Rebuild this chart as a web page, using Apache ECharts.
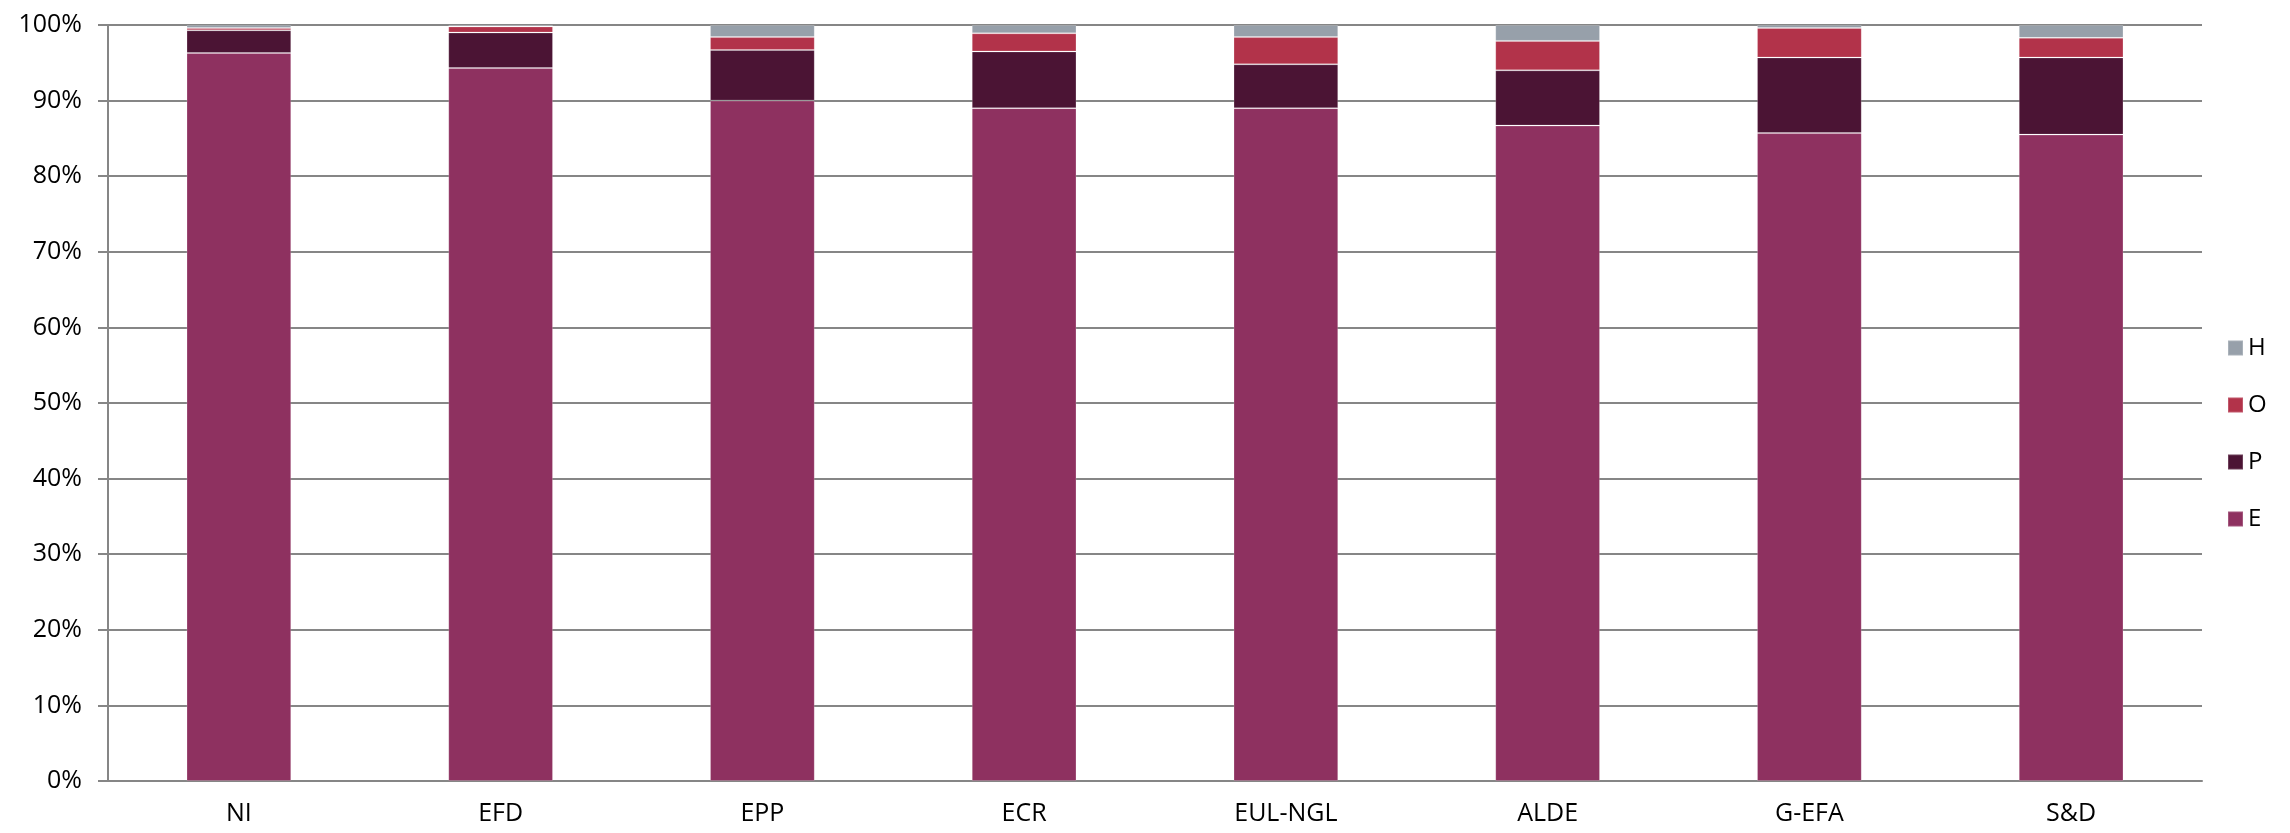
<!DOCTYPE html>
<html><head><meta charset="utf-8">
<script src="https://cdn.jsdelivr.net/npm/echarts@6/dist/echarts.min.js"></script>
<style>html,body{margin:0;padding:0;background:#fff}#c{width:2290px;height:833px}</style>
</head><body><div id="c"></div>
<script>
const categories = ['NI','EFD','EPP','ECR','EUL-NGL','ALDE','G-EFA','S&D'];
const E = [96.3, 94.3, 90.0, 89.0, 89.0, 86.7, 85.7, 85.5];
const P = [3.0, 4.7, 6.7, 7.5, 5.8, 7.3, 10.0, 10.2];
const O = [0.3, 0.8, 1.7, 2.4, 3.6, 3.9, 3.9, 2.6];
const H = [0.4, 0.2, 1.6, 1.1, 1.6, 2.1, 0.4, 1.7];
const colors = {E:'#8E3160', P:'#4B1434', O:'#B2334A', H:'#97A0AA'};
const font = '"Open Sans", "Noto Sans", sans-serif';
const chart = echarts.init(document.getElementById('c'));
function s(name, data){
  return {name, type:'bar', stack:'t', data, barWidth:'40%',
    itemStyle:{color:colors[name], borderColor:'rgba(255,255,255,0.18)', borderWidth:1}};
}
chart.setOption({
  animation:false,
  grid:{left:108, right:88, top:25, bottom:52},
  legend:{orient:'vertical', left:2222, top:331, data:['H','O','P','E'],
    itemWidth:15, itemHeight:15, itemGap:33, icon:'rect',
    textStyle:{fontFamily:font, fontSize:24, color:'#000'}},
  xAxis:{type:'category', data:categories,
    axisLine:{lineStyle:{color:'#868686', width:2}},
    axisTick:{length:10, lineStyle:{color:'#868686', width:2}},
    axisLabel:{fontFamily:font, fontSize:25, color:'#000', margin:20}},
  yAxis:{type:'value', min:0, max:100, interval:10,
    axisLine:{show:true, lineStyle:{color:'#868686', width:2}},
    axisTick:{show:true, length:10, lineStyle:{color:'#868686', width:2}},
    splitLine:{lineStyle:{color:'#868686', width:2}},
    axisLabel:{formatter:'{value}%', fontFamily:font, fontSize:25, color:'#000', margin:26}},
  series:[s('E',E), s('P',P), s('O',O), s('H',H)]
});
</script></body></html>
